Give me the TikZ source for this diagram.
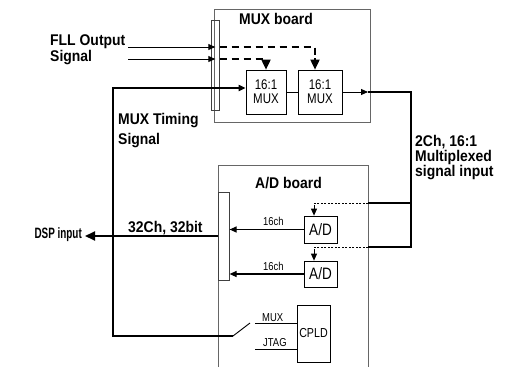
\documentclass[tikz,border=0pt]{standalone}
\usepackage{fontspec}
\setmainfont{Liberation Sans}
\newfontfamily\cond[FakeStretch=0.9]{Liberation Sans}
\newfontfamily\condn[FakeStretch=0.82]{Liberation Sans}
\newfontfamily\condd[FakeStretch=0.66]{Liberation Sans}
\usetikzlibrary{arrows.meta,calc}
\begin{document}
\begin{tikzpicture}[x=1pt,y=-1pt,
  lbl/.style={font=\cond\bfseries\fontsize{15.5}{17}\selectfont, inner sep=0pt},
  reg/.style={font=\condn\fontsize{14}{15}\selectfont, inner sep=0pt, align=center},
  small/.style={font=\condn\fontsize{11.5}{12}\selectfont, inner sep=0pt},
  board/.style={draw=black!60, line width=0.6pt},
  bar/.style={draw=black!75, line width=0.6pt, inner sep=0pt},
  blk/.style={draw, line width=0.7pt, inner sep=0pt},
  sig/.style={line width=0.9pt},
  bus/.style={line width=1.8pt},
  tip/.style={-{Triangle[length=7pt,width=6pt]}},
  bigtip/.style={-{Triangle[length=10pt,width=9pt]}},
  dsh/.style={line width=1.8pt, dash pattern=on 7pt off 5pt},
  dot/.style={line width=0.7pt, dash pattern=on 2pt off 1.5pt},
]
\useasboundingbox (0,0) rectangle (506,367);

% boards
\node[board, anchor=north west, minimum width=156pt, minimum height=113pt] (muxb) at (214,9) {};
\coordinate (adbl) at (218,367);
\coordinate (adtl) at (218,165);
\coordinate (adtr) at (368,165);
\coordinate (adbr) at (368,367);
\draw[board] (adbl) -- (adtl) -- (adtr) -- (adbr);

% connector bars
\node[bar, anchor=north west, minimum width=8pt, minimum height=90pt] (bar1) at (211,20) {};
\node[bar, anchor=north west, minimum width=11pt, minimum height=88pt] (bar2) at (218,192) {};

% blocks
\node[blk, minimum width=40pt, minimum height=44pt, reg] (mux1) at (266,92) {16:1\\[-1pt]MUX};
\node[blk, minimum width=44pt, minimum height=44pt, reg] (mux2) at (320,92) {16:1\\[-1pt]MUX};
\node[blk, minimum width=33pt, minimum height=27pt, font=\condn\fontsize{16.5}{17}\selectfont] (ad1) at (320.5,229.5) {A/D};
\node[blk, minimum width=33pt, minimum height=26pt, font=\condn\fontsize{16.5}{17}\selectfont] (ad2) at (320.5,274) {A/D};
\node[blk, minimum width=33pt, minimum height=57pt, font=\condn\fontsize{13}{14}\selectfont] (cpld) at (313.5,333.5) {CPLD};

% labels
\node[lbl, anchor=base west] (lmuxb) at (239,24) {MUX board};
\node[lbl, anchor=base west] (lfll) at (50,45) {FLL Output};
\node[lbl, anchor=base west] (lsig) at (50,61) {Signal};
\node[lbl, anchor=base west] (ltim) at (118,124) {MUX Timing};
\node[lbl, anchor=base west] (ltim2) at (118,144) {Signal};
\node[lbl, anchor=base west] (l2ch) at (415,146) {2Ch, 16:1};
\node[lbl, anchor=base west] (lmpx) at (415,161) {Multiplexed};
\node[lbl, anchor=base west] (lsin) at (415,176) {signal input};
\node[lbl, anchor=base west] (ladb) at (255,188) {A/D board};
\node[lbl, anchor=base west] (l32) at (128,232) {32Ch, 32bit};
\node[lbl, anchor=east, font=\condd\bfseries\fontsize{15}{16}\selectfont] (ldsp) at (82,235) {DSP input};
\node[small, anchor=base west] (l16a) at (263,225) {16ch};
\node[small, anchor=base west] (l16b) at (263,270) {16ch};
\node[small, anchor=base west] (lmux) at (262,321) {MUX};
\node[small, anchor=base west] (ljtag) at (263,346) {JTAG};

% FLL output signals
\coordinate (f1) at (128,47);
\coordinate (f2) at (128,59);
\draw[sig, tip] (f1) -- (f1 -| bar1.center);
\draw[sig, tip] (f2) -- (f2 -| bar1.center);
\coordinate (d1) at (315,47);
\coordinate (d2) at (266,59);
\draw[dsh] (f1 -| bar1.east) -- (d1) -- ++(0,12);
\draw[bus, bigtip] (315,58) -- (d1 |- mux2.north);
\draw[dsh] (f2 -| bar1.east) -- (d2) -- ++(0,2);
\draw[bus, bigtip] (266,60) -- (mux1.north);

% MUX timing
\coordinate (t0) at (113,336);
\coordinate (t1) at (113,88);
\coordinate (t2) at (233,336);
\coordinate (t3) at (250,323);
\draw[bus, tip] (t0) -- (t1) -- (t1 -| mux1.west);
\draw[bus] (t1) -- (t0) -- (t2);
\draw[sig] (t2) -- (t3);

% mux chain
\draw[sig] (mux1.east) -- (mux2.east -| mux2.west);
\coordinate (o1) at (368,92);
\coordinate (o2) at (411,92);
\coordinate (o3) at (411,247);
\coordinate (o4) at (411,203);
\draw[sig, tip] (mux2.east) -- (o1);
\draw[bus] (o1) -- (o2) -- (o3) -- (o3 -| adtr);
\draw[bus] (o4) -- (o4 -| adtr);
\coordinate (a1) at (314,203);
\coordinate (a2) at (314,247);
\draw[dot] (o4 -| adtr) -- (a1) -- ++(0,5);
\draw[sig, tip] (314,207) -- (a1 |- ad1.north);
\draw[dot] (o3 -| adtr) -- (a2) -- ++(0,5);
\draw[sig, tip] (314,251) -- (a2 |- ad2.north);

% A/D to bar
\draw[line width=1.2pt, tip] (ad1.west) -- (ad1.west -| bar2.east);
\draw[line width=1.2pt, tip] (ad2.west) -- (ad2.west -| bar2.east);

% DSP output
\coordinate (dsp) at (85,236);
\draw[bus, bigtip] (dsp -| bar2.west) -- (dsp);

% CPLD inputs
\coordinate (m0) at (255,323);
\coordinate (j0) at (255,349);
\draw[sig] (m0) -- (m0 -| cpld.west);
\draw[sig] (j0) -- (j0 -| cpld.west);
\end{tikzpicture}
\end{document}
